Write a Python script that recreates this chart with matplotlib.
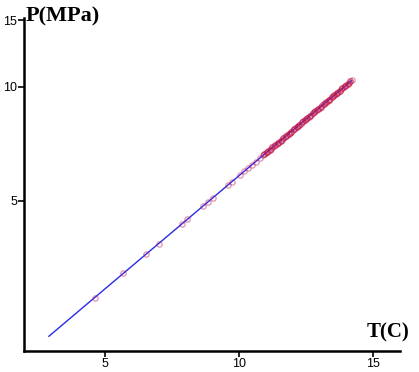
import numpy as np
import matplotlib.pyplot as plt
from matplotlib.ticker import FixedLocator, NullLocator, FixedFormatter

# fitted line end points
line_T = [2.93, 14.19]
line_P = [2.19, 10.37]

# measured points (sparse low part, dense high part)
pts_T = [4.63, 5.70, 6.56, 7.04, 7.89, 8.07, 8.67, 8.85, 9.04, 9.59, 9.74,
         10.04, 10.19, 10.33, 10.48, 10.63, 10.78,
         10.9, 11.0, 11.1, 11.2, 11.3, 11.4, 11.5, 11.6, 11.7, 11.8, 11.9,
         12.0, 12.1, 12.2, 12.3, 12.4, 12.5, 12.6, 12.7, 12.8, 12.9,
         13.0, 13.1, 13.2, 13.3, 13.4, 13.5, 13.6, 13.7, 13.8, 13.9,
         14.0, 14.1, 14.2]
pts_P = [2.77, 3.21, 3.61, 3.84, 4.34, 4.46, 4.83, 4.96, 5.09, 5.50, 5.61,
         5.84, 5.97, 6.09, 6.22, 6.34, 6.47,
         6.58, 6.68, 6.77, 6.86, 6.96, 7.06, 7.15, 7.25, 7.36, 7.46, 7.56,
         7.66, 7.77, 7.88, 7.99, 8.10, 8.21, 8.33, 8.44, 8.56, 8.68,
         8.80, 8.93, 9.05, 9.18, 9.30, 9.43, 9.56, 9.69, 9.83, 9.97,
         10.11, 10.25, 10.39]

# extra points in the dense part
dense_T = [10.95, 11.05, 11.15, 11.25, 11.35, 11.45, 11.55, 11.65, 11.75,
           11.85, 11.95, 12.05, 12.15, 12.25, 12.35, 12.45, 12.55, 12.65,
           12.75, 12.85, 12.95, 13.05, 13.15, 13.25, 13.35, 13.45, 13.55,
           13.65, 13.75, 13.85, 13.95, 14.05, 14.15]
dense_P = [6.63, 6.72, 6.81, 6.91, 7.01, 7.10, 7.20, 7.31, 7.41,
           7.51, 7.61, 7.72, 7.83, 7.93, 8.05, 8.16, 8.27, 8.38,
           8.50, 8.62, 8.74, 8.86, 8.99, 9.11, 9.24, 9.37, 9.50,
           9.63, 9.76, 9.90, 10.04, 10.18, 10.32]

x_ticks = [5, 10, 15]
y_ticks = [5, 10, 15]

fig = plt.figure(figsize=(4.19, 3.72), dpi=100)
ax = fig.add_axes([0.057, 0.056, 0.898, 0.896])

ax.plot(line_T, line_P, color='#2a2ae8', lw=1.0, zorder=2)
ax.plot(pts_T, pts_P, 'o', ms=3.8, mfc='none', mec='#b4185a', mew=1.0,
        alpha=0.42, zorder=3)
ax.plot(dense_T, dense_P, 'o', ms=3.8, mfc='none', mec='#c01040', mew=1.1,
        alpha=0.65, zorder=3)

ax.set_yscale('log')
ax.set_xlim(2.0, 16.0)
ax.set_ylim(2.0, 15.2)

ax.xaxis.set_major_locator(FixedLocator(x_ticks))
ax.yaxis.set_major_locator(FixedLocator(y_ticks))
ax.yaxis.set_major_formatter(FixedFormatter([str(v) for v in y_ticks]))
ax.yaxis.set_minor_locator(NullLocator())

for s in ['top', 'right']:
    ax.spines[s].set_visible(False)
for s in ['left', 'bottom']:
    ax.spines[s].set_linewidth(1.8)

ax.tick_params(direction='out', length=4, width=1.2, labelsize=9,
               pad=1)
for lab in ax.get_xticklabels() + ax.get_yticklabels():
    lab.set_fontfamily('Liberation Sans')

fig.text(0.062, 0.955, 'P(MPa)', fontfamily='Liberation Serif',
         fontweight='bold', fontsize=16, ha='left', va='center')
fig.text(0.978, 0.105, 'T(C)', fontfamily='Liberation Serif',
         fontweight='bold', fontsize=15, ha='right', va='center')

fig.savefig('out.png', dpi=100)
